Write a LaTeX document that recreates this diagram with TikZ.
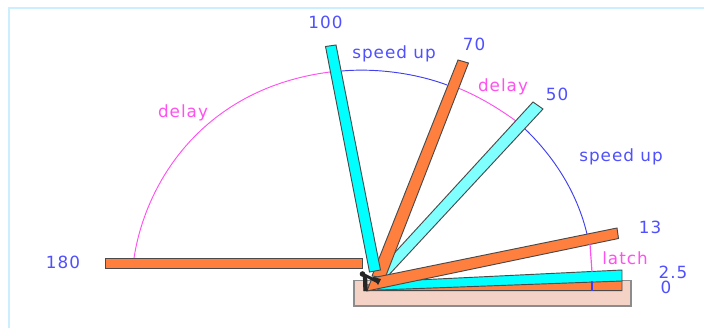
\documentclass[tikz,border=0pt]{standalone}
\usepackage{fontspec}
\newfontfamily\labfont[LetterSpace=6]{DejaVu Sans}
\definecolor{barorange}{HTML}{FF7F3F}
\definecolor{barcyan}{HTML}{00FFFF}
\definecolor{barpale}{HTML}{80FFFF}
\definecolor{basefill}{HTML}{F4D2C6}
\definecolor{labblue}{HTML}{5050FF}
\definecolor{arcblue}{HTML}{4040F0}
\definecolor{labpink}{HTML}{FF50F0}
\definecolor{framecol}{HTML}{CDEEFF}
\definecolor{edgecol}{HTML}{4A4A4A}
\tikzset{
  bar/.style={draw=edgecol,line width=0.7pt,line join=miter},
  baseplate/.style={draw=black!45,fill=basefill,line width=0.8pt},
  bluelab/.style={text=labblue,font=\labfont\fontsize{12.6}{14}\selectfont,inner sep=0pt},
  pinklab/.style={text=labpink,font=\labfont\fontsize{12.6}{14}\selectfont,inner sep=0pt},
  speedarc/.style={draw=arcblue,line width=0.7pt},
  delayarc/.style={draw=labpink,line width=0.7pt},
  mech/.style={draw=black!85}
}
\begin{document}
\begin{tikzpicture}[x=0.75pt,y=-0.75pt]
\useasboundingbox (0,0) rectangle (704,328);
\fill[white] (0,0) rectangle (704,328);
% frame
\draw[framecol,line width=1.5pt] (9,328) -- (9,8) -- (704,8);
% base
\draw[baseplate] (354,280.5) rectangle (631,306);
% arcs
\draw[delayarc] (134,258) .. controls (146,180) and (205,88) .. (330,72);
\draw[speedarc] (342,71) .. controls (375,68) and (415,73) .. (447,85);
\draw[delayarc] (458,88) .. controls (478,96) and (498,108) .. (516,121);
\draw[speedarc] (524,128) .. controls (546,149) and (575,184) .. (587,234);
% bars
\draw[bar,fill=barorange] (105,258.5) rectangle (362.5,268.5);
\draw[bar,fill=barorange] (364,290.7) -- (364,285) -- (622,280.7) -- (622,290.7) -- cycle;
\draw[bar,fill=barcyan] (376,282) -- (622,270) -- (622,281) -- (378,290) -- cycle;
\draw[bar,fill=barpale] (533,102) -- (543,109) -- (386,278) -- (377,272) -- cycle;
\draw[bar,fill=barorange] (458,60) -- (468.5,63) -- (385,278) -- (372,276) -- cycle;
\draw[bar,fill=barcyan] (325.5,46.5) -- (336,45) -- (380.5,270) -- (369.5,272) -- cycle;
\draw[bar,fill=barorange] (372,278) -- (617,228) -- (618.5,238.5) -- (367,291) -- cycle;
% latch marks
\draw[delayarc,line width=0.9pt] (590,244) -- (592,272);
\draw[speedarc,line width=0.9pt] (592,281) -- (592,291);
% mechanism
\draw[mech,line width=3.2pt] (365,275) -- (365.5,291);
\draw[mech,line width=2.2pt] (362.5,274) -- (378,282);
\fill[black!85] (362.5,274) circle (2.8);
\fill[black!85] (373,277) -- (381,279) -- (378,285) -- cycle;
% labels
\node[bluelab] (l100) at (325.5,22) {100};
\node[bluelab] (l70) at (474,44) {70};
\node[bluelab] (l50) at (557,94) {50};
\node[bluelab] (l13) at (650,227) {13};
\node[bluelab] (l25) at (673,272) {2.5};
\node[bluelab] (l0) at (666,287) {0};
\node[bluelab] (l180) at (63,262) {180};
\node[bluelab] (su1) at (394,54) {speed up};
\node[bluelab] (su2) at (621,157) {speed up};
\node[pinklab] (d1) at (183,113) {delay};
\node[pinklab] (d2) at (503,87) {delay};
\node[pinklab] (la) at (625,258) {latch};
\end{tikzpicture}
\end{document}
